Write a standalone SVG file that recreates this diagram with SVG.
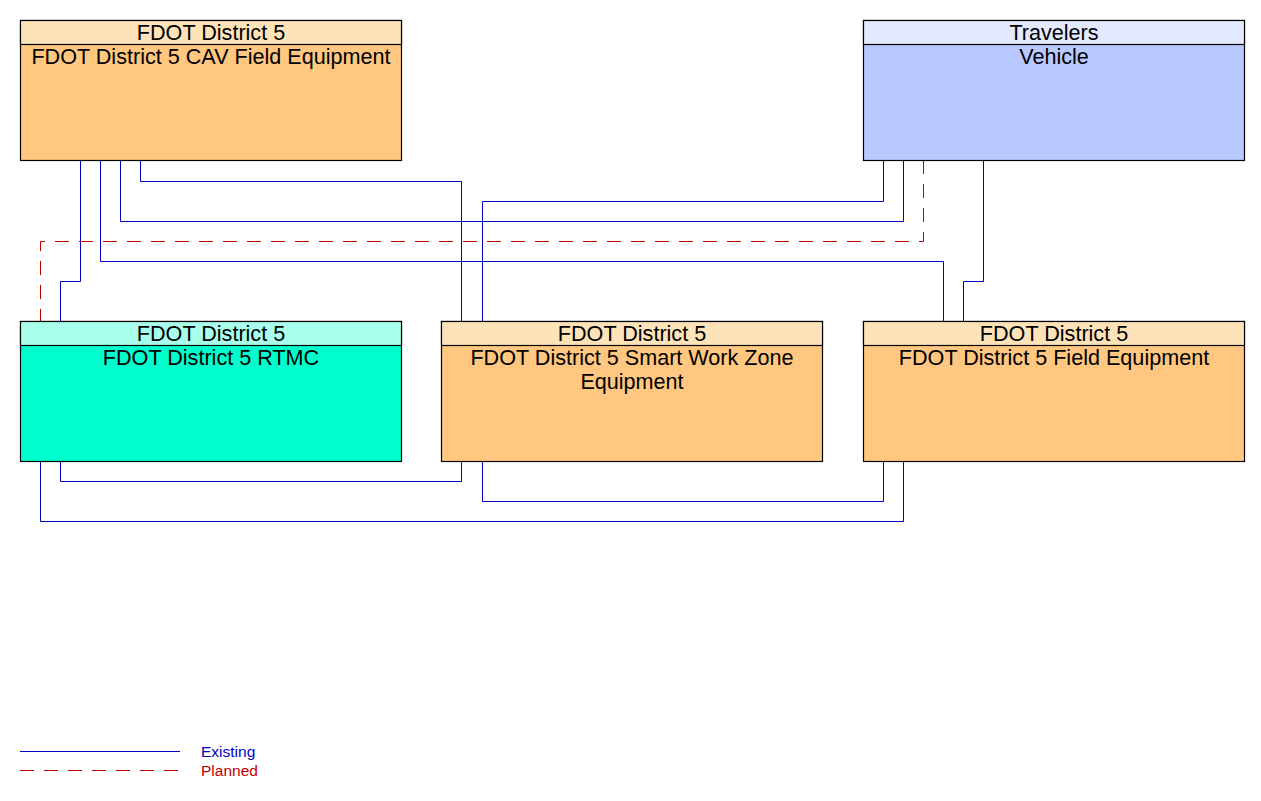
<svg xmlns="http://www.w3.org/2000/svg" width="1261" height="801" viewBox="0 0 1261 801">
<style>
.box{stroke:#000;stroke-width:1.2}
.t{font-family:"Liberation Sans",Arial,sans-serif;font-size:21.6px;text-anchor:middle;fill:#000}
.ex{fill:none;stroke:#0000C0;stroke-width:1}
.pl{fill:none;stroke:#C00000;stroke-width:1;stroke-dasharray:14 10}
.lg{font-family:"Liberation Sans",Arial,sans-serif;font-size:15.5px}
</style>
<rect width="1261" height="801" fill="#fff"/>
<g id="connectors">
<path class="ex" d="M80.5 160V281.5H60.5V321"/>
<path class="ex" d="M100.5 160V261.5H943.5V321"/>
<path class="ex" d="M120.5 160V221.5H903.5V160"/>
<path class="ex" d="M140.5 160V181.5H461.5V321"/>
<path class="ex" d="M883.5 160V201.5H482.5V321"/>
<path class="pl" d="M923.5 160V241.5H40.5V321"/>
<path class="ex" d="M983.5 160V281.5H963.5V321"/>
<path class="ex" d="M60.5 461V481.5H461.5V461"/>
<path class="ex" d="M482.5 461V501.5H883.5V461"/>
<path class="ex" d="M40.5 461V521.5H903.5V461"/>
</g>
<g id="cav">
<rect class="box" x="20.5" y="20.5" width="381" height="140" fill="#FFC77F"/>
<rect class="box" x="20.5" y="20.5" width="381" height="24" fill="#FFE3B8"/>
<text class="t" x="211" y="40">FDOT District 5</text>
<text class="t" x="211" y="64">FDOT District 5 CAV Field Equipment</text>
</g>
<g id="vehicle">
<rect class="box" x="863.5" y="20.5" width="381" height="140" fill="#B9C9FF"/>
<rect class="box" x="863.5" y="20.5" width="381" height="24" fill="#E3E9FF"/>
<text class="t" x="1054" y="40">Travelers</text>
<text class="t" x="1054" y="64">Vehicle</text>
</g>
<g id="rtmc">
<rect class="box" x="20.5" y="321.5" width="381" height="140" fill="#00FFCC"/>
<rect class="box" x="20.5" y="321.5" width="381" height="24" fill="#A8FFEB"/>
<text class="t" x="211" y="341">FDOT District 5</text>
<text class="t" x="211" y="365">FDOT District 5 RTMC</text>
</g>
<g id="swz">
<rect class="box" x="441.5" y="321.5" width="381" height="140" fill="#FFC77F"/>
<rect class="box" x="441.5" y="321.5" width="381" height="24" fill="#FFE3B8"/>
<text class="t" x="632" y="341">FDOT District 5</text>
<text class="t" x="632" y="365">FDOT District 5 Smart Work Zone</text>
<text class="t" x="632" y="389">Equipment</text>
</g>
<g id="field">
<rect class="box" x="863.5" y="321.5" width="381" height="140" fill="#FFC77F"/>
<rect class="box" x="863.5" y="321.5" width="381" height="24" fill="#FFE3B8"/>
<text class="t" x="1054" y="341">FDOT District 5</text>
<text class="t" x="1054" y="365">FDOT District 5 Field Equipment</text>
</g>
<g id="legend">
<line class="ex" x1="20" y1="751.5" x2="180" y2="751.5"/>
<line class="pl" x1="20" y1="770.5" x2="180" y2="770.5"/>
<text class="lg" x="201" y="757" fill="#0000C0">Existing</text>
<text class="lg" x="201" y="776" fill="#C00000">Planned</text>
</g>
</svg>
